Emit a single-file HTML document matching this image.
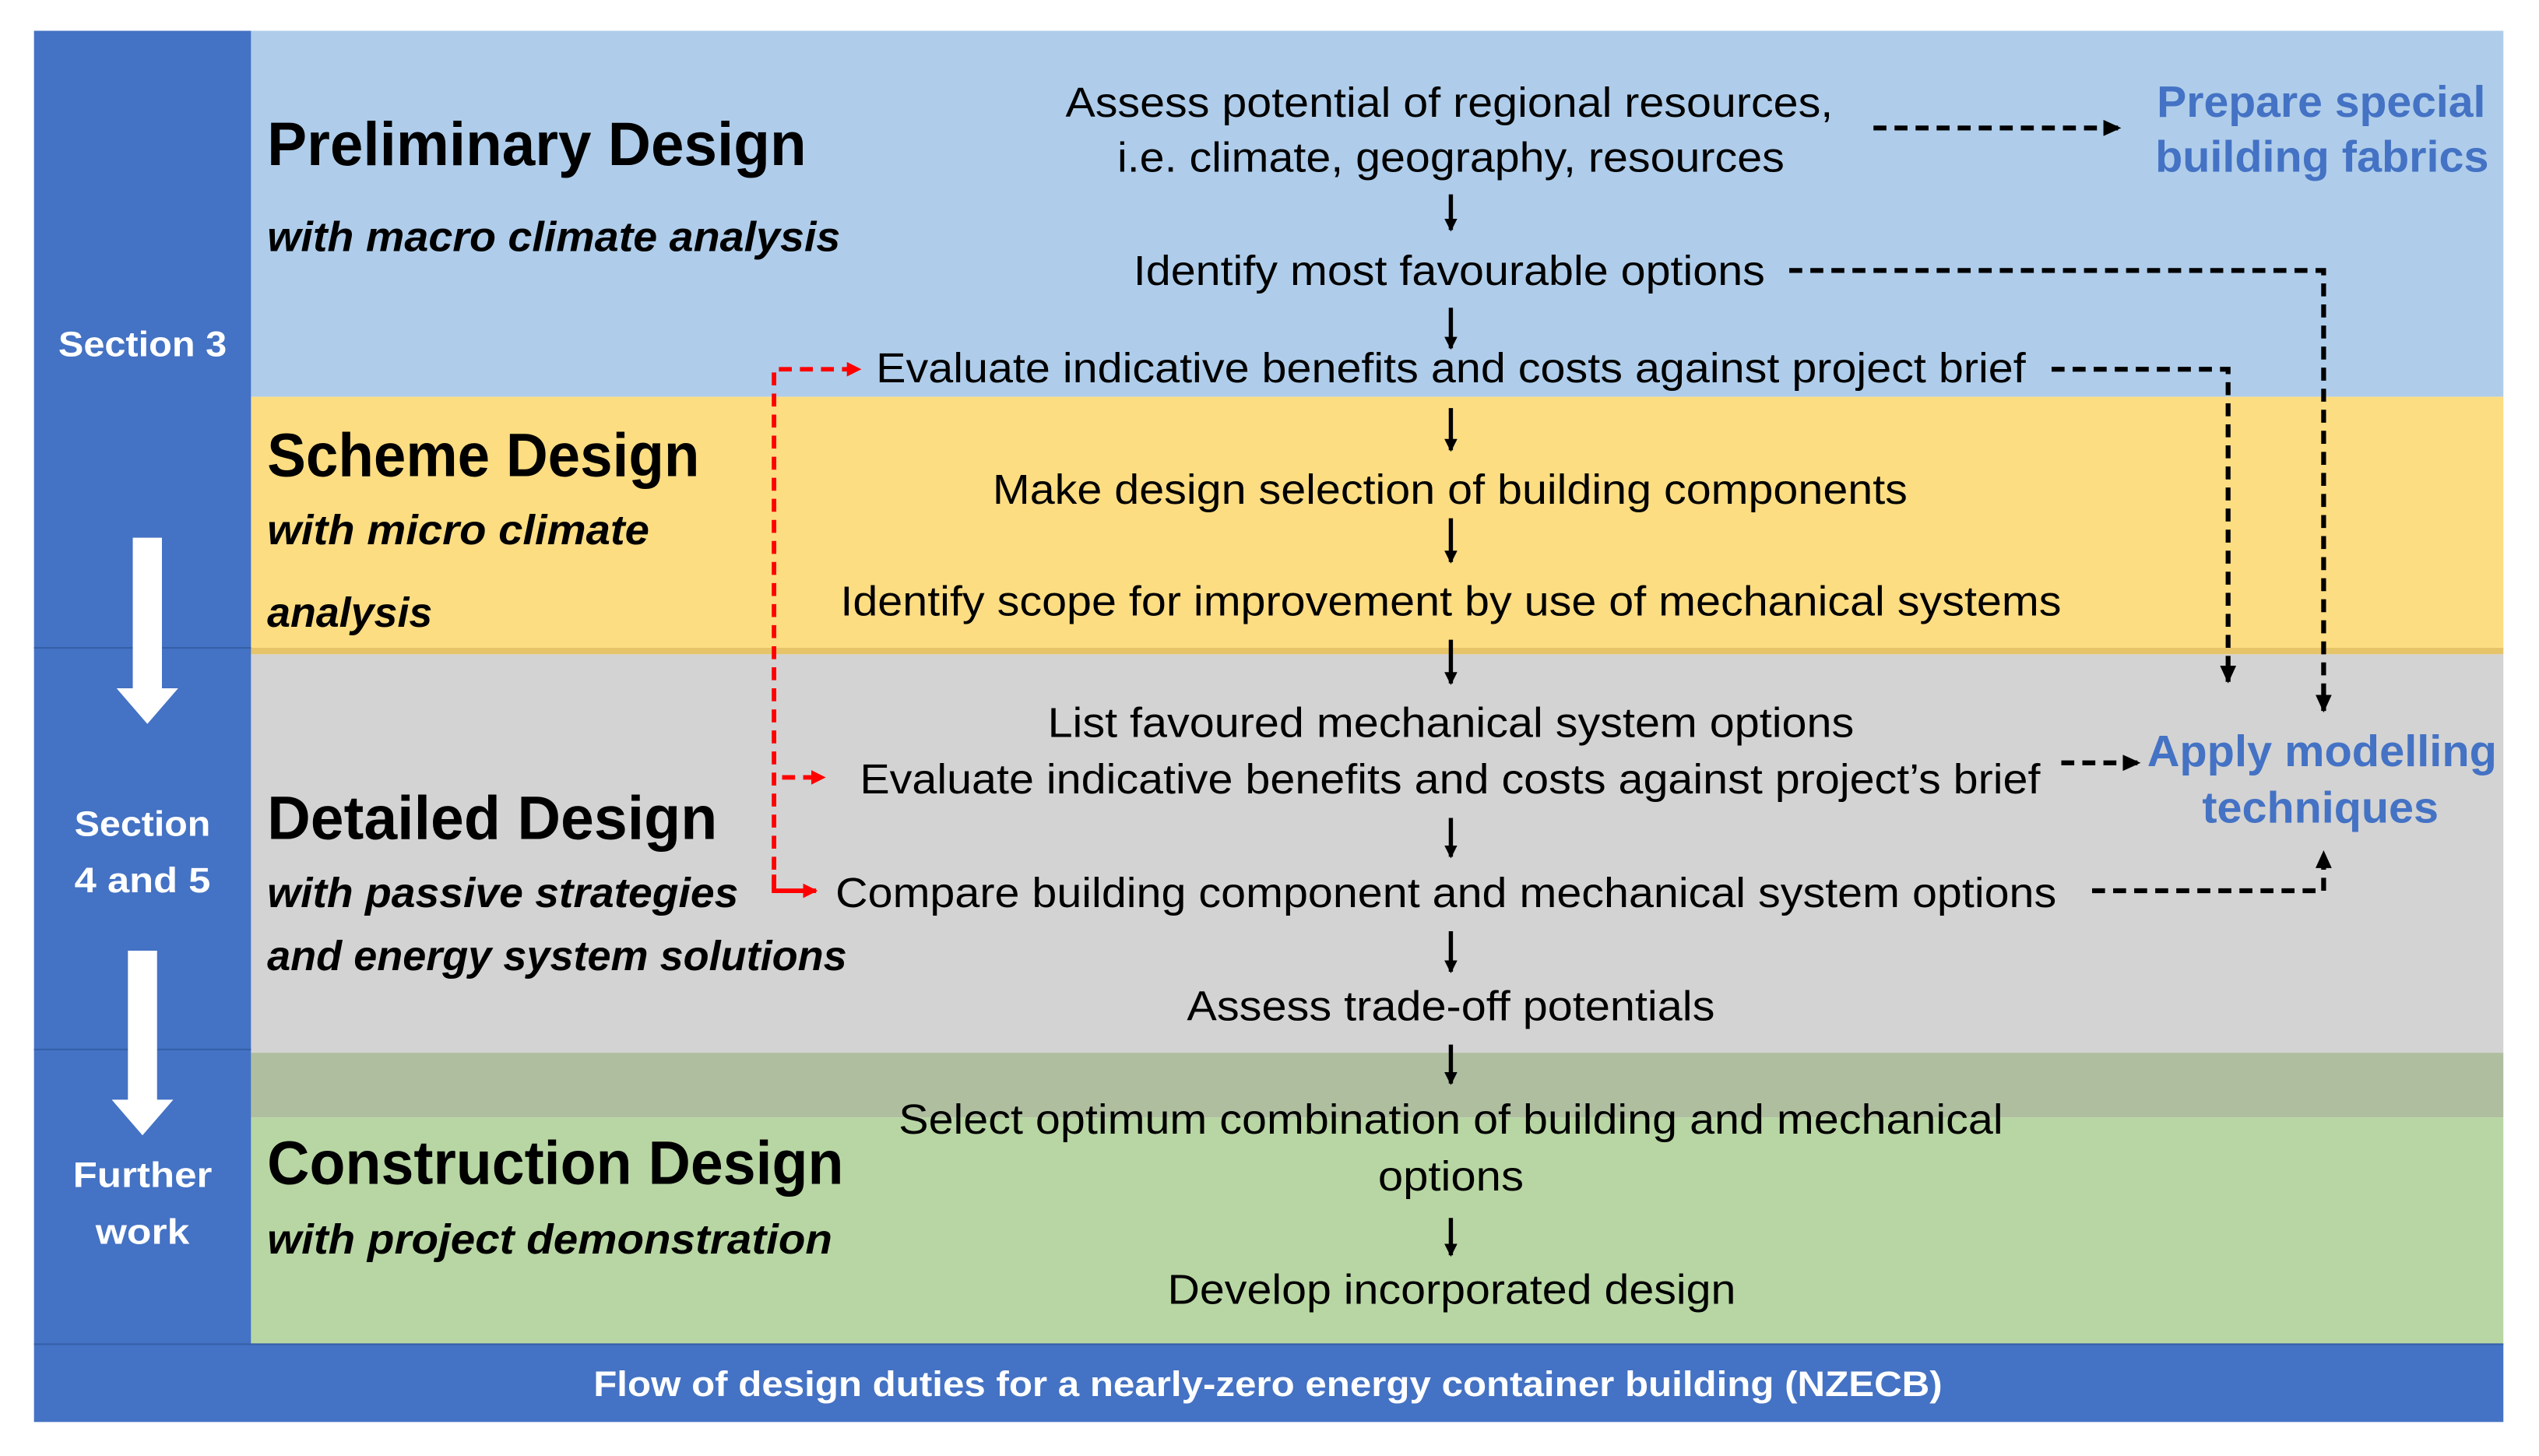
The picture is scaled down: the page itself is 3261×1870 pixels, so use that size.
<!DOCTYPE html>
<html><head><meta charset="utf-8"><style>html,body{margin:0;padding:0;background:#fff}svg{display:block}</style></head>
<body>
<svg width="3261" height="1870" viewBox="0 0 1568 899" xmlns="http://www.w3.org/2000/svg" preserveAspectRatio="none">
<defs>
<marker id="ab" markerWidth="8" markerHeight="8" refX="7" refY="4" orient="auto" markerUnits="userSpaceOnUse"><path d="M0,0 L8,4 L0,8 z" fill="#000"/></marker>
<marker id="ar" markerWidth="9" markerHeight="9" refX="8" refY="4.5" orient="auto" markerUnits="userSpaceOnUse"><path d="M0,0 L9,4.5 L0,9 z" fill="#f00"/></marker>
<marker id="ak" markerWidth="11" markerHeight="10" refX="10" refY="5" orient="auto" markerUnits="userSpaceOnUse"><path d="M0,0 L11,5 L0,10 z" fill="#000"/></marker>
</defs>
<rect x="0" y="0" width="1568" height="899" fill="#fff"/>
<rect x="155" y="19" width="1391" height="226" fill="#AFCDEA"/>
<rect x="155" y="245" width="1391" height="157" fill="#FDDD82"/>
<rect x="155" y="400" width="1391" height="4" fill="#E6C46A"/>
<rect x="155" y="404" width="1391" height="246" fill="#D3D3D3"/>
<rect x="155" y="650" width="1391" height="40" fill="#B0BEA0"/>
<rect x="155" y="690" width="1391" height="140" fill="#B8D6A3"/>
<rect x="21" y="19" width="134" height="811" fill="#4472C4"/>
<line x1="21" y1="400" x2="155" y2="400" stroke="#3560A8" stroke-width="1"/>
<line x1="21" y1="648" x2="155" y2="648" stroke="#3560A8" stroke-width="1"/>
<rect x="21" y="830" width="1525" height="48" fill="#4472C4"/>
<line x1="21" y1="830" x2="1546" y2="830" stroke="#3560A8" stroke-width="1"/>

<g fill="#fff">
<rect x="82" y="332" width="18" height="94"/><path d="M72,425 L110,425 L91,447 z"/>
<rect x="79" y="587" width="18" height="93"/><path d="M69,679 L107,679 L88,701 z"/>
</g>
<g font-family="Liberation Sans, sans-serif" font-weight="bold" fill="#fff" font-size="22" text-anchor="middle">
<text x="88" y="220" textLength="104" lengthAdjust="spacingAndGlyphs">Section 3</text>
<text x="88" y="516" textLength="84" lengthAdjust="spacingAndGlyphs">Section</text>
<text x="88" y="551" textLength="84" lengthAdjust="spacingAndGlyphs">4 and 5</text>
<text x="88" y="733" textLength="86" lengthAdjust="spacingAndGlyphs">Further</text>
<text x="88" y="768" textLength="58" lengthAdjust="spacingAndGlyphs">work</text>
<text x="783" y="862" textLength="833" lengthAdjust="spacingAndGlyphs">Flow of design duties for a nearly-zero energy container building (NZECB)</text>
</g>

<g font-family="Liberation Sans, sans-serif" font-weight="bold" fill="#000">
<g font-size="38">
<text x="165" y="102" textLength="333" lengthAdjust="spacingAndGlyphs">Preliminary Design</text>
<text x="165" y="294" textLength="267" lengthAdjust="spacingAndGlyphs">Scheme Design</text>
<text x="165" y="518" textLength="278" lengthAdjust="spacingAndGlyphs">Detailed Design</text>
<text x="165" y="731" textLength="356" lengthAdjust="spacingAndGlyphs">Construction Design</text>
</g>
<g font-size="26" font-style="italic">
<text x="165" y="155" textLength="354" lengthAdjust="spacingAndGlyphs">with macro climate analysis</text>
<text x="165" y="336" textLength="236" lengthAdjust="spacingAndGlyphs">with micro climate</text>
<text x="165" y="387" textLength="102" lengthAdjust="spacingAndGlyphs">analysis</text>
<text x="165" y="560" textLength="291" lengthAdjust="spacingAndGlyphs">with passive strategies</text>
<text x="165" y="599" textLength="358" lengthAdjust="spacingAndGlyphs">and energy system solutions</text>
<text x="165" y="774" textLength="349" lengthAdjust="spacingAndGlyphs">with project demonstration</text>
</g>
</g>

<g font-family="Liberation Sans, sans-serif" fill="#000" font-size="26">
<text x="658" y="72" textLength="474" lengthAdjust="spacingAndGlyphs">Assess potential of regional resources,</text>
<text x="690" y="106" textLength="412" lengthAdjust="spacingAndGlyphs">i.e. climate, geography, resources</text>
<text x="700" y="176" textLength="390" lengthAdjust="spacingAndGlyphs">Identify most favourable options</text>
<text x="541" y="236" textLength="710" lengthAdjust="spacingAndGlyphs">Evaluate indicative benefits and costs against project brief</text>
<text x="613" y="311" textLength="565" lengthAdjust="spacingAndGlyphs">Make design selection of building components</text>
<text x="519" y="380" textLength="754" lengthAdjust="spacingAndGlyphs">Identify scope for improvement by use of mechanical systems</text>
<text x="647" y="455" textLength="498" lengthAdjust="spacingAndGlyphs">List favoured mechanical system options</text>
<text x="531" y="490" textLength="729" lengthAdjust="spacingAndGlyphs">Evaluate indicative benefits and costs against project’s brief</text>
<text x="516" y="560" textLength="754" lengthAdjust="spacingAndGlyphs">Compare building component and mechanical system options</text>
<text x="733" y="630" textLength="326" lengthAdjust="spacingAndGlyphs">Assess trade-off potentials</text>
<text x="555" y="700" textLength="682" lengthAdjust="spacingAndGlyphs">Select optimum combination of building and mechanical</text>
<text x="851" y="735" textLength="90" lengthAdjust="spacingAndGlyphs">options</text>
<text x="721" y="805" textLength="351" lengthAdjust="spacingAndGlyphs">Develop incorporated design</text>
</g>

<g font-family="Liberation Sans, sans-serif" font-weight="bold" fill="#4472C4" font-size="27">
<text x="1332" y="72" textLength="203" lengthAdjust="spacingAndGlyphs">Prepare special</text>
<text x="1331" y="106" textLength="206" lengthAdjust="spacingAndGlyphs">building fabrics</text>
<text x="1326" y="473" textLength="216" lengthAdjust="spacingAndGlyphs">Apply modelling</text>
<text x="1360" y="508" textLength="146" lengthAdjust="spacingAndGlyphs">techniques</text>
</g>

<g stroke="#000" stroke-width="2.6" fill="none" marker-end="url(#ab)">
<line x1="896" y1="120" x2="896" y2="142"/>
<line x1="896" y1="190" x2="896" y2="215"/>
<line x1="896" y1="252" x2="896" y2="278"/>
<line x1="896" y1="320" x2="896" y2="347"/>
<line x1="896" y1="395" x2="896" y2="422"/>
<line x1="896" y1="505" x2="896" y2="529"/>
<line x1="896" y1="575" x2="896" y2="600"/>
<line x1="896" y1="645" x2="896" y2="669"/>
<line x1="896" y1="752" x2="896" y2="775"/>
</g>

<g stroke="#000" stroke-width="3" fill="none" stroke-dasharray="8,5" marker-end="url(#ak)">
<path d="M1157,79 L1309,79"/>
<path d="M1105,167 L1435,167 L1435,439"/>
<path d="M1267,228 L1376,228 L1376,421"/>
<path d="M1273,471 L1321,471"/>
<path d="M1292,550 L1435,550 L1435,526"/>
</g>

<g stroke="#f00" stroke-width="2.8" fill="none" stroke-dasharray="8,5">
<path d="M478,550 L478,228 L531,228" marker-end="url(#ar)"/>
<path d="M483,480 L509,480" marker-end="url(#ar)"/>
</g>
<path d="M478,540 L478,550 L504,550" stroke="#f00" stroke-width="2.8" fill="none" marker-end="url(#ar)"/>
</svg>
</body></html>
